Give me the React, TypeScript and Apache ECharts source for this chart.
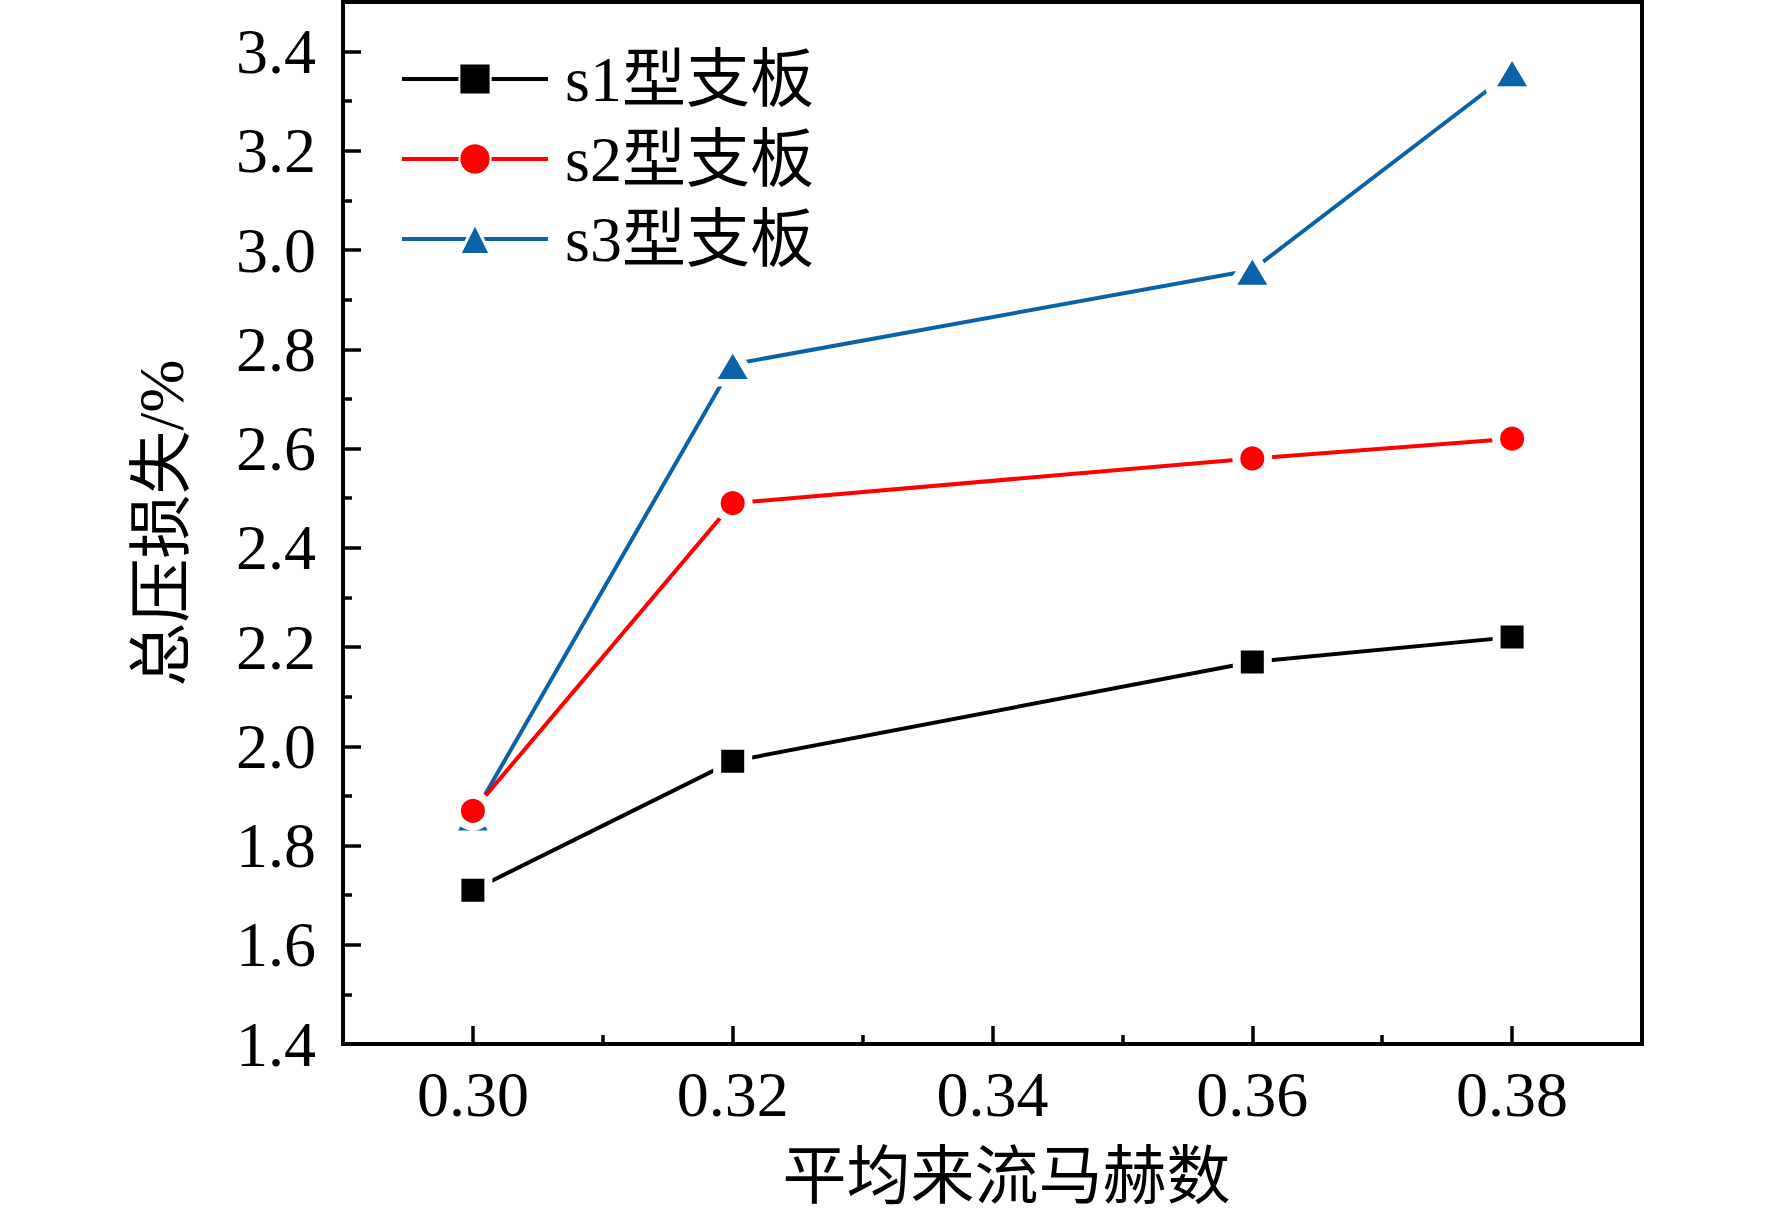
import React, { useEffect, useRef } from "react";
import * as echarts from "echarts";

const machNumbers = [0.3, 0.32, 0.36, 0.38];
const s1Values = [1.71, 1.97, 2.17, 2.22];
const s2Values = [1.87, 2.49, 2.58, 2.62];
const s3Values = [1.86, 2.77, 2.96, 3.36];
const seriesNames = ["s1型支板", "s2型支板", "s3型支板"];
const seriesColors = ["#000000", "#FF0000", "#0A63A8"];
const xMajorTicks = [0.3, 0.32, 0.34, 0.36, 0.38];
const xMinorTicks = [0.31, 0.33, 0.35, 0.37];
const yMajorTicks = [1.4, 1.6, 1.8, 2.0, 2.2, 2.4, 2.6, 2.8, 3.0, 3.2, 3.4];
const yMinorTicks = [1.5, 1.7, 1.9, 2.1, 2.3, 2.5, 2.7, 2.9, 3.1, 3.3];
const xTitle = "平均来流马赫数";
const yTitle = "总压损失/%";

const FONT = "'Liberation Serif', 'Times New Roman', 'Noto Sans CJK SC', serif";

export default function App() {
  const ref = useRef<HTMLDivElement>(null);
  useEffect(() => {
    if (!ref.current) return;
    const chart = echarts.init(ref.current, null, { renderer: "svg" });
    const pairs = (vals: number[]) => machNumbers.map((x, i) => [x, vals[i]]);
    const tickStyle = { color: "#000", width: 3.5 };
    const halo = { borderColor: "#fff", borderWidth: 8, borderJoin: "round" };
    chart.setOption({
      animation: false,
      backgroundColor: "#fff",
      grid: {
        left: 343,
        right: 130,
        top: 2,
        bottom: 181,
        show: true,
        borderColor: "#000",
        borderWidth: 4,
        backgroundColor: "transparent",
      },
      legend: {
        orient: "vertical",
        left: 400,
        top: 47,
        padding: 0,
        itemWidth: 146,
        itemHeight: 39,
        itemGap: 16,
        lineStyle: { width: 4 },
        data: [
          { name: seriesNames[0] },
          { name: seriesNames[1] },
          { name: seriesNames[2], itemStyle: { borderWidth: 3 } },
        ],
        textStyle: {
          fontFamily: FONT,
          fontSize: 64,
          lineHeight: 64,
          color: "#000",
          padding: [0, 0, 0, 12],
        },
      },
      xAxis: [
        {
          type: "value",
          min: 0.29,
          max: 0.39,
          name: xTitle,
          nameLocation: "middle",
          nameGap: 100,
          nameTextStyle: {
            fontFamily: FONT,
            fontSize: 64,
            color: "#000",
            padding: [0, 0, 0, 28],
          },
          axisLine: { show: false },
          splitLine: { show: false },
          axisTick: {
            inside: true,
            length: 18,
            lineStyle: tickStyle,
            customValues: xMajorTicks,
          },
          axisLabel: {
            customValues: xMajorTicks,
            formatter: (v: number) => v.toFixed(2),
            fontFamily: FONT,
            fontSize: 64,
            color: "#000",
            margin: 18,
          },
        },
        {
          type: "value",
          min: 0.29,
          max: 0.39,
          position: "bottom",
          axisLine: { show: false },
          splitLine: { show: false },
          axisLabel: { show: false },
          axisTick: {
            inside: true,
            length: 9,
            lineStyle: tickStyle,
            customValues: xMinorTicks,
          },
        },
      ],
      yAxis: [
        {
          type: "value",
          min: 1.4,
          max: 3.5,
          name: yTitle,
          nameLocation: "middle",
          nameGap: 150,
          nameTextStyle: {
            fontFamily: FONT,
            fontSize: 64,
            color: "#000",
          },
          axisLine: { show: false },
          splitLine: { show: false },
          axisTick: {
            inside: true,
            length: 18,
            lineStyle: tickStyle,
            customValues: yMajorTicks,
          },
          axisLabel: {
            customValues: yMajorTicks,
            formatter: (v: number) => v.toFixed(1),
            fontFamily: FONT,
            fontSize: 64,
            color: "#000",
            margin: 27,
          },
        },
        {
          type: "value",
          min: 1.4,
          max: 3.5,
          position: "left",
          axisLine: { show: false },
          splitLine: { show: false },
          axisLabel: { show: false },
          axisTick: {
            inside: true,
            length: 9,
            lineStyle: tickStyle,
            customValues: yMinorTicks,
          },
        },
      ],
      series: [
        {
          name: seriesNames[0],
          type: "line",
          data: pairs(s1Values),
          symbol: "rect",
          symbolSize: 31,
          lineStyle: { color: seriesColors[0], width: 4 },
          itemStyle: { color: seriesColors[0], ...halo },
          z: 3,
        },
        {
          name: seriesNames[1],
          type: "line",
          data: pairs(s2Values),
          symbol: "circle",
          symbolSize: 32,
          lineStyle: { color: seriesColors[1], width: 4 },
          itemStyle: { color: seriesColors[1], ...halo },
          z: 4,
        },
        {
          name: seriesNames[2],
          type: "line",
          data: pairs(s3Values),
          symbol: "triangle",
          symbolSize: [44, 37],
          lineStyle: { color: seriesColors[2], width: 4 },
          itemStyle: { color: seriesColors[2], ...halo },
          z: 2,
        },
      ],
    });
    return () => chart.dispose();
  }, []);
  return (
    <div
      ref={ref}
      style={{ position: "fixed", left: 0, top: 0, width: 1772, height: 1225, background: "#fff" }}
    />
  );
}
